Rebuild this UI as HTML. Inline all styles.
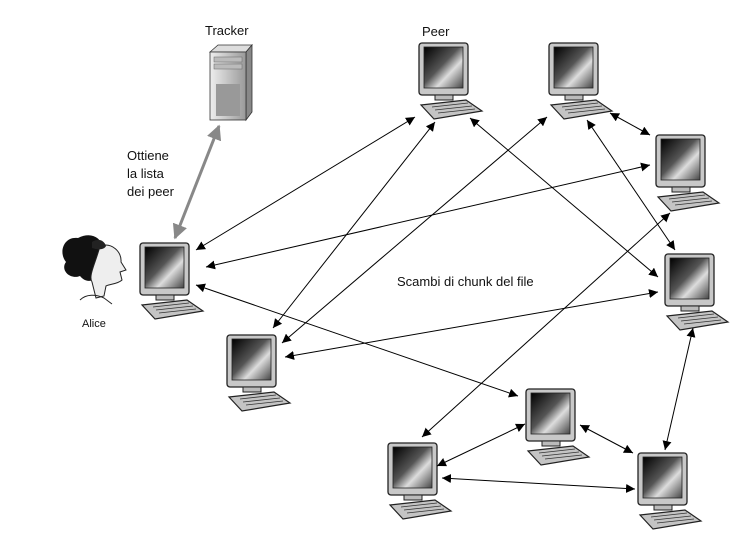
<!DOCTYPE html>
<html><head><style>
html,body{margin:0;padding:0;background:#fff;}
svg{display:block;}
text{font-family:"Liberation Sans",sans-serif;fill:#111;}
</style></head><body>
<svg width="753" height="559" viewBox="0 0 753 559" xmlns="http://www.w3.org/2000/svg">
<defs>
<linearGradient id="scr" x1="0" y1="0" x2="1" y2="1">
<stop offset="0" stop-color="#000"/><stop offset="0.45" stop-color="#555"/><stop offset="0.65" stop-color="#ddd"/><stop offset="1" stop-color="#444"/>
</linearGradient>
<linearGradient id="srv" x1="0" y1="0" x2="1" y2="0">
<stop offset="0" stop-color="#eee"/><stop offset="1" stop-color="#999"/>
</linearGradient>
<symbol id="pc" viewBox="0 0 66 78">
<rect x="1" y="1" width="49" height="52" rx="3" fill="#c8c8c8" stroke="#222" stroke-width="1.3"/>
<rect x="6" y="5" width="39" height="41" fill="url(#scr)" stroke="#222" stroke-width="0.8"/>
<rect x="17" y="53" width="18" height="5" fill="#bbb" stroke="#222" stroke-width="1"/>
<polygon points="3,63 48,58 64,69 16,77" fill="#c4c4c4" stroke="#222" stroke-width="1.2"/>
<line x1="14" y1="65" x2="50" y2="61" stroke="#333" stroke-width="0.8"/>
<line x1="17" y1="68" x2="54" y2="64" stroke="#333" stroke-width="0.8"/>
<line x1="20" y1="71" x2="57" y2="67" stroke="#333" stroke-width="0.8"/>
</symbol>
<marker id="ah" viewBox="0 0 10 10" refX="10" refY="5" markerWidth="9" markerHeight="9" markerUnits="userSpaceOnUse" orient="auto-start-reverse">
<path d="M0,0 L10,5 L0,10 z" fill="#000"/></marker>
<marker id="ag" viewBox="0 0 10 10" refX="9" refY="5" markerWidth="5" markerHeight="5" orient="auto-start-reverse">
<path d="M0,0 L10,5 L0,10 z" fill="#888"/></marker>
</defs>

<!-- computers -->
<use href="#pc" x="139" y="242" width="66" height="78"/>
<use href="#pc" x="418" y="42" width="66" height="78"/>
<use href="#pc" x="548" y="42" width="66" height="78"/>
<use href="#pc" x="655" y="134" width="66" height="78"/>
<use href="#pc" x="664" y="253" width="66" height="78"/>
<use href="#pc" x="226" y="334" width="66" height="78"/>
<use href="#pc" x="525" y="388" width="66" height="78"/>
<use href="#pc" x="387" y="442" width="66" height="78"/>
<use href="#pc" x="637" y="452" width="66" height="78"/>

<!-- server -->
<polygon points="210,52 218,45 252,45 246,52" fill="#ddd" stroke="#333" stroke-width="0.8"/>
<polygon points="246,52 252,45 252,112 246,120" fill="#888" stroke="#333" stroke-width="0.8"/>
<rect x="210" y="52" width="36" height="68" fill="url(#srv)" stroke="#333" stroke-width="0.8"/>
<rect x="214" y="57" width="28" height="5" fill="#bbb" stroke="#666" stroke-width="0.5"/>
<rect x="214" y="64" width="28" height="5" fill="#bbb" stroke="#666" stroke-width="0.5"/>
<rect x="216" y="84" width="24" height="32" fill="#999"/>

<!-- Alice -->
<path d="M78,238 C64,236 58,252 66,262 C60,270 70,280 80,276 C86,284 98,282 98,272 L104,248 C100,236 90,232 78,238 Z" fill="#111"/>
<path d="M100,246 C112,242 122,252 121,262 L126,270 L120,272 L122,280 C118,284 110,284 106,286 L104,296 L96,298 L92,282 C88,276 96,262 100,246 Z" fill="#eee" stroke="#222" stroke-width="1"/>
<path d="M92,242 C98,238 104,240 106,246 C104,250 98,250 92,248 Z" fill="#222"/>
<path d="M80,300 C86,294 96,294 104,298 L112,304" fill="none" stroke="#222" stroke-width="1"/>

<!-- arrows -->
<g stroke="#000" stroke-width="1" fill="none" marker-start="url(#ah)" marker-end="url(#ah)">
<line x1="196" y1="250" x2="415" y2="117"/>
<line x1="206" y1="267" x2="650" y2="165"/>
<line x1="196" y1="285" x2="518" y2="396"/>
<line x1="470" y1="118" x2="658" y2="277"/>
<line x1="435" y1="122" x2="273" y2="328"/>
<line x1="547" y1="117" x2="282" y2="343"/>
<line x1="285" y1="357" x2="658" y2="292"/>
<line x1="610" y1="113" x2="650" y2="135"/>
<line x1="587" y1="120" x2="675" y2="250"/>
<line x1="693" y1="328" x2="665" y2="450"/>
<line x1="422" y1="437" x2="670" y2="213"/>
<line x1="525" y1="424" x2="437" y2="466"/>
<line x1="580" y1="425" x2="633" y2="453"/>
<line x1="442" y1="478" x2="635" y2="489"/>
</g>
<line x1="219" y1="126" x2="175" y2="238" stroke="#888" stroke-width="3" marker-start="url(#ag)" marker-end="url(#ag)"/>

<!-- labels -->
<text x="205" y="35" font-size="13">Tracker</text>
<text x="422" y="36" font-size="13">Peer</text>
<text x="127" y="160" font-size="13">Ottiene</text>
<text x="127" y="178" font-size="13">la lista</text>
<text x="127" y="196" font-size="13">dei peer</text>
<text x="82" y="327" font-size="11">Alice</text>
<text x="397" y="286" font-size="13">Scambi di chunk del file</text>
</svg>
</body></html>
